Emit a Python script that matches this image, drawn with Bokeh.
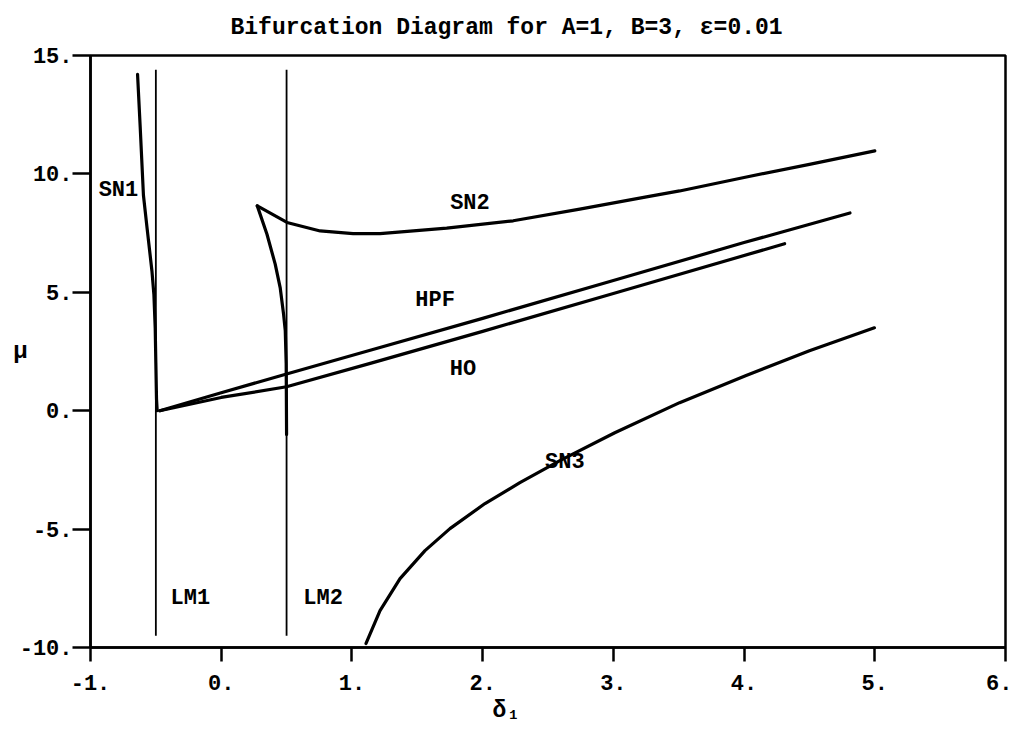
from bokeh.plotting import figure
from bokeh.models import Range1d, FixedTicker, PrintfTickFormatter, Title, ColumnDataSource
from bokeh.embed import file_html
from bokeh.resources import INLINE
from bokeh.core.properties import value

# ---------------- data ----------------
TITLE = "Bifurcation Diagram for A=1, B=3, \u03b5=0.01"
X_LABEL = "\u03b4\u2081"
Y_LABEL = "\u03bc"
X_TICKS = [-1, 0, 1, 2, 3, 4, 5, 6]
Y_TICKS = [-10, -5, 0, 5, 10, 15]

LM1_X = [-0.5, -0.5]
LM1_Y = [-9.5, 14.4]
LM2_X = [0.5, 0.5]
LM2_Y = [-9.5, 14.4]

SN1_X = [-0.64, -0.62, -0.595, -0.567, -0.53, -0.515, -0.505, -0.5, -0.495, -0.49]
SN1_Y = [14.2, 12.0, 9.1, 7.7, 5.9, 4.9, 3.5, 2.0, 0.5, 0.0]

SN2_X = [0.276, 0.503, 0.757, 1.009, 1.215, 1.725, 2.234, 2.743, 3.253, 3.507, 4.0, 4.5, 5.0]
SN2_Y = [8.65, 7.95, 7.59, 7.48, 7.48, 7.71, 8.02, 8.51, 9.03, 9.28, 9.85, 10.4, 10.97]
SN2B_X = [0.276, 0.35, 0.413, 0.451, 0.477, 0.49, 0.497, 0.5]
SN2B_Y = [8.65, 7.45, 6.19, 5.2, 4.08, 3.38, 2.0, -1.0]

HPF_X = [-0.47, 0.0, 0.5, 1.14, 2.0, 3.0, 4.0, 4.81]
HPF_Y = [0.0, 0.76, 1.55, 2.55, 3.9, 5.5, 7.1, 8.35]

HO_X = [-0.47, 0.0, 0.5, 1.14, 2.0, 3.0, 4.31]
HO_Y = [0.0, 0.56, 1.01, 2.0, 3.35, 4.95, 7.05]

SN3_X = [1.108, 1.215, 1.368, 1.559, 1.75, 2.018, 2.285, 2.591, 3.011, 3.507, 4.011, 4.5, 4.997]
SN3_Y = [-9.83, -8.44, -7.09, -5.91, -4.98, -3.92, -3.04, -2.11, -0.93, 0.34, 1.48, 2.53, 3.5]

CURVE_NAMES = ["SN1", "SN2", "HPF", "HO", "SN3", "LM1", "LM2"]

# --------------- figure ---------------
FONT = "Liberation Mono"

p = figure(width=1012, height=730, output_backend="svg", toolbar_location=None,
           x_range=Range1d(-1, 6), y_range=Range1d(-10, 15),
           min_border_left=90, min_border_right=7, min_border_top=55, min_border_bottom=83)
p.background_fill_color = "white"
p.border_fill_color = "white"
p.grid.visible = False
p.outline_line_color = "black"
p.outline_line_width = 2.5
p.outline_line_alpha = 1.0

for ax in (p.xaxis[0], p.yaxis[0]):
    ax.axis_line_width = 2.5
    ax.axis_line_color = "black"
    ax.major_tick_line_width = 2.5
    ax.major_tick_line_color = "black"
    ax.major_tick_in = 0
    ax.minor_tick_line_color = None
    ax.major_label_text_font = FONT
    ax.major_label_text_font_style = "bold"
    ax.major_label_text_font_size = "22px"
    ax.major_label_text_color = "black"
    ax.formatter = PrintfTickFormatter(format="%d.")

p.xaxis[0].ticker = FixedTicker(ticks=X_TICKS)
p.yaxis[0].ticker = FixedTicker(ticks=Y_TICKS)
p.xaxis[0].major_tick_out = 14
p.xaxis[0].major_label_standoff = 13
p.yaxis[0].major_tick_out = 18
p.yaxis[0].major_label_standoff = 0

p.yaxis[0].axis_label = Y_LABEL
p.yaxis[0].axis_label_orientation = "horizontal"
p.yaxis[0].axis_label_standoff = -11
p.yaxis[0].axis_label_text_font = FONT
p.yaxis[0].axis_label_text_font_style = "bold"
p.yaxis[0].axis_label_text_font_size = "24px"
p.yaxis[0].axis_label_text_color = "black"

# curves
p.line(LM1_X, LM1_Y, line_color="black", line_width=1.8)
p.line(LM2_X, LM2_Y, line_color="black", line_width=1.8)
for xs, ys in [(SN1_X, SN1_Y), (SN2_X, SN2_Y), (SN2B_X, SN2B_Y), (HPF_X, HPF_Y),
               (HO_X, HO_Y), (SN3_X, SN3_Y)]:
    p.line(xs, ys, line_color="black", line_width=3.2, line_join="round", line_cap="round")

# curve labels
label_pos = {"SN1": (-0.786, 9.28), "SN2": (1.903, 8.73), "HPF": (1.636, 4.64),
             "HO": (1.85, 1.72), "SN3": (2.629, -2.19), "LM1": (-0.236, -7.93),
             "LM2": (0.78, -7.93)}
src = ColumnDataSource(dict(x=[label_pos[n][0] for n in CURVE_NAMES],
                            y=[label_pos[n][1] for n in CURVE_NAMES],
                            t=CURVE_NAMES))
p.text(x="x", y="y", text="t", source=src, text_font=value(FONT), text_font_style="bold",
       text_font_size="22px", text_align="center", text_baseline="middle", text_color="black")

# title (above) and x label (below) as titles, positioned by offset
p.add_layout(Title(text=TITLE, align="left", offset=140, standoff=26, vertical_align="top",
                   text_font=FONT, text_font_style="bold", text_font_size="23px",
                   text_color="black"), "above")
p.add_layout(Title(text=X_LABEL, align="left", offset=402, standoff=6,
                   text_font=FONT, text_font_style="bold", text_font_size="23px",
                   text_color="black"), "below")

open("out.html", "w").write(file_html(p, INLINE))
